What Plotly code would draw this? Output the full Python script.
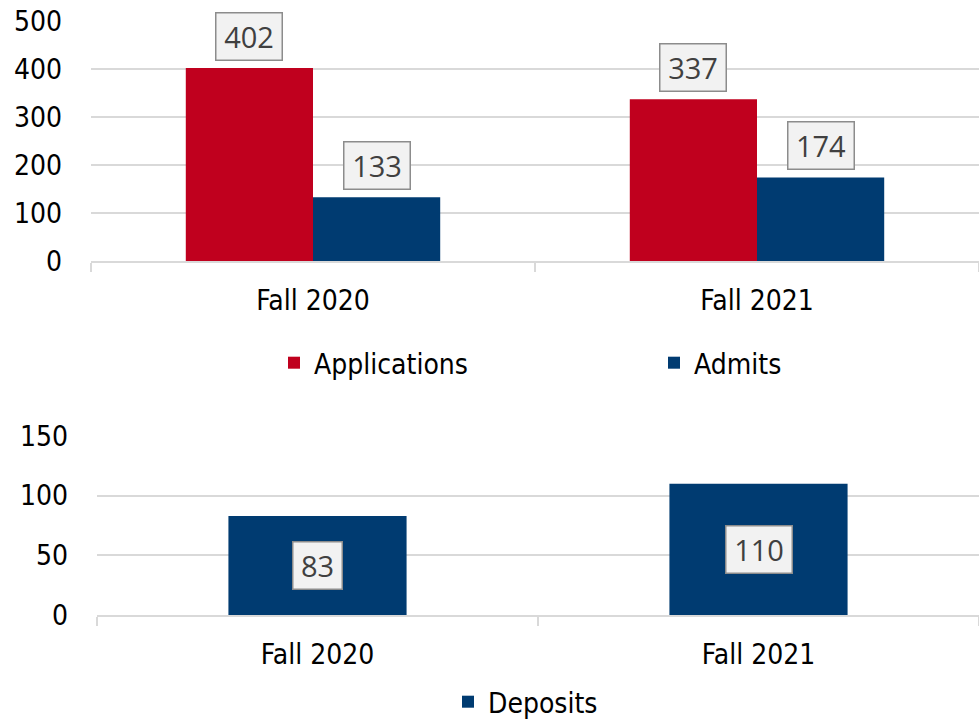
import plotly.graph_objects as go

categories = ["Fall 2020", "Fall 2021"]
applications = [402, 337]
admits = [133, 174]
deposits = [83, 110]

RED = "#C0001E"
BLUE = "#003B71"
GRID = "#D9D9D9"
FONT = "DejaVu Sans Condensed, DejaVu Sans, sans-serif"
LABEL_FONT = "Open Sans, Noto Sans, sans-serif"
FS = 28

W, H = 979, 720


def px(xp):
    return xp / W


def py(yp):
    return 1 - yp / H


TOP_GAP = 0.427
top_bar_w = (1 - TOP_GAP) / 2
BOTTOM_W = 0.404

fig = go.Figure()
fig.add_bar(x=categories, y=applications, name="Applications", marker_color=RED,
            marker_line_width=0, xaxis="x", yaxis="y", legend="legend")
fig.add_bar(x=categories, y=admits, name="Admits", marker_color=BLUE,
            marker_line_width=0, xaxis="x", yaxis="y", legend="legend3")
fig.add_bar(x=categories, y=deposits, name="Deposits", marker_color=BLUE,
            marker_line_width=0, xaxis="x2", yaxis="y2", legend="legend2",
            width=[BOTTOM_W] * len(deposits), offset=[-BOTTOM_W / 2] * len(deposits))

annotations = []
box = dict(bgcolor="#F2F2F2", bordercolor="#8C8C8C", borderwidth=1.5, borderpad=4,
           font=dict(family=LABEL_FONT, size=29, color="#404040"), showarrow=False,
           height=38)
for i, v in enumerate(applications):
    annotations.append(dict(x=i - top_bar_w / 2, y=v, xref="x", yref="y", text=str(v),
                            yanchor="bottom", yshift=7, width=57, **box))
for i, v in enumerate(admits):
    annotations.append(dict(x=i + top_bar_w / 2, y=v, xref="x", yref="y", text=str(v),
                            yanchor="bottom", yshift=7, width=57, **box))
for i, v in enumerate(deposits):
    annotations.append(dict(x=i, y=v / 2, xref="x2", yref="y2", text=str(v),
                            yanchor="middle", width=40 if v < 100 else 57, **box))

axis_common_y = dict(showgrid=True, gridcolor=GRID, gridwidth=1.5, zeroline=False,
                     showline=False, ticks="", ticklabelstandoff=28, automargin=False,
                     ticklabeloverflow="allow",
                     tickfont=dict(family=FONT, size=FS, color="#000000"), fixedrange=True)
axis_common_x = dict(showline=True, linecolor=GRID, linewidth=1.5, ticks="outside",
                     tickson="boundaries", ticklen=9, tickcolor=GRID, tickwidth=1.5,
                     showgrid=False, ticklabelstandoff=14, automargin=False,
                     ticklabeloverflow="allow", fixedrange=True,
                     tickfont=dict(family=FONT, size=FS, color="#000000"))

legend_common = dict(orientation="h", xanchor="left", yanchor="middle", itemclick=False,
                     font=dict(family=FONT, size=FS, color="#000000"),
                     bgcolor="rgba(0,0,0,0)")

fig.update_layout(
    width=W, height=H,
    margin=dict(l=0, r=0, t=0, b=0, autoexpand=False),
    paper_bgcolor="white", plot_bgcolor="white",
    barmode="group", bargap=TOP_GAP, bargroupgap=0,
    font=dict(family=FONT, size=FS, color="#000000"),
    xaxis=dict(domain=[px(91), 1], anchor="y", **axis_common_x),
    yaxis=dict(domain=[py(261), py(21)], anchor="x",
               range=[0, 500], dtick=100, **axis_common_y),
    xaxis2=dict(domain=[px(97), 1], anchor="y2", **axis_common_x),
    yaxis2=dict(domain=[py(615), py(436)], anchor="x2",
                range=[0, 150], dtick=50, **axis_common_y),
    legend=dict(x=px(274), y=py(363), **legend_common),
    legend3=dict(x=px(654), y=py(363), **legend_common),
    legend2=dict(x=px(448), y=py(702), **legend_common),
    annotations=annotations,
    showlegend=True,
)

fig.write_html(
    "out.html",
    config={"displayModeBar": False},
    post_script="document.body.style.margin='0';document.body.style.overflow='hidden';",
)
